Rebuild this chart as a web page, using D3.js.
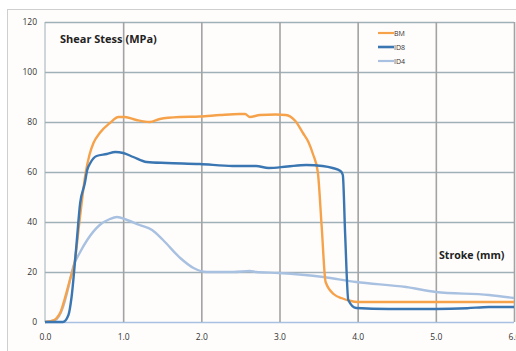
<!DOCTYPE html>
<html>
<head>
<meta charset="utf-8">
<script src="https://cdnjs.cloudflare.com/ajax/libs/d3/7.8.5/d3.min.js"></script>
<style>
  body { margin: 0; background: #fff; }
  svg { display: block; }
</style>
</head>
<body>
<script>
// values: [stroke (mm), shear stress (MPa)]
var bmData = [
  [0, 0], [0.1, 0.5], [0.15, 1.6], [0.2, 4], [0.25, 9], [0.32, 17], [0.38, 24], [0.44, 40],
  [0.52, 59.6], [0.57, 67], [0.62, 71.6], [0.7, 75.6], [0.83, 79.6], [0.94, 82], [1.02, 82],
  [1.17, 80.8], [1.34, 80], [1.47, 81.2], [1.73, 82], [1.98, 82.2], [2.24, 82.8], [2.49, 83.2],
  [2.56, 83.2], [2.62, 82], [2.75, 82.8], [2.95, 83], [3.08, 82.8], [3.2, 80.5], [3.3, 75.6],
  [3.37, 72], [3.43, 67], [3.49, 60], [3.54, 38], [3.59, 16], [3.7, 11], [3.8, 9.5],
  [3.9, 8.5], [4.0, 8], [5.0, 8], [6.0, 8]
];
var id8Data = [
  [0, 0], [0.23, 0], [0.3, 2.8], [0.34, 10], [0.4, 30], [0.45, 47.6], [0.51, 55.6], [0.54, 60.8],
  [0.58, 63.6], [0.66, 66.4], [0.79, 67.2], [0.9, 68], [1.0, 67.6], [1.13, 66], [1.3, 64],
  [1.56, 63.6], [1.98, 63.2], [2.4, 62.4], [2.7, 62.4], [2.86, 61.6], [3.1, 62.2], [3.34, 62.8],
  [3.55, 62.4], [3.68, 61.6], [3.78, 60.4], [3.81, 58.8], [3.84, 35], [3.88, 8.8], [3.98, 5.6],
  [4.4, 5.2], [5.0, 5.2], [5.4, 5.5], [5.68, 6], [6.0, 6]
];
var id4Data = [
  [0, 0], [0.13, 0.8], [0.23, 6], [0.3, 14], [0.36, 22], [0.45, 28], [0.54, 32.8], [0.7, 38.8],
  [0.83, 41.2], [0.92, 42], [1.05, 40.8], [1.21, 38.8], [1.37, 36.8], [1.51, 32.8], [1.73, 25.6],
  [1.9, 21.6], [2.07, 20], [2.41, 20], [2.62, 20.4], [2.7, 20], [2.99, 19.6], [3.56, 18],
  [3.98, 16], [4.62, 14], [5.0, 12], [5.68, 10.8], [6.0, 9.6]
];
var seriesNames = ["BM", "ID8", "ID4"];
var seriesColors = ["#f5a24b", "#3a76b2", "#a9c1e1"];
var xTicks = [0, 1, 2, 3, 4, 5, 6];
var yTicks = [0, 20, 40, 60, 80, 100, 120];

var svgWidth = 516;
var svgHeight = 351;
var margin = { top: 22, right: 2, bottom: 29, left: 45 };
var chartWidth = svgWidth - margin.left - margin.right;
var chartHeight = svgHeight - margin.top - margin.bottom;

var svg = d3.select("body")
  .append("svg")
    .attr("width", svgWidth)
    .attr("height", svgHeight);

// outer chart frame (runs off the right/bottom edge)
svg.append("rect")
  .attr("x", 7.5)
  .attr("y", 9.5)
  .attr("width", 520)
  .attr("height", 360)
  .style("fill", "#fffdfc")
  .style("stroke", "#cfcfcf");

var g = svg.append("g")
  .attr("transform", "translate(" + margin.left + ", " + margin.top + ")");

var xScale = d3.scaleLinear().domain([0, 6]).range([0, chartWidth]);
var yScale = d3.scaleLinear().domain([0, 120]).range([chartHeight, 0]);

// horizontal grid
g.append("g")
  .attr("class", "y-grid")
  .call(d3.axisLeft(yScale).tickValues(yTicks).tickSize(-chartWidth).tickFormat(""))
  .call(function (a) { a.select(".domain").remove(); })
  .selectAll("line")
    .style("stroke", function (d) { return d === 0 ? "#a9c1e1" : "#9fb0b8"; })
    .style("stroke-width", 1.6);

// vertical grid
g.append("g")
  .attr("class", "x-grid")
  .attr("transform", "translate(0, " + chartHeight + ")")
  .call(d3.axisBottom(xScale).tickValues(xTicks.slice(1)).tickSize(-chartHeight).tickFormat(""))
  .call(function (a) { a.select(".domain").remove(); })
  .selectAll("line")
    .style("stroke", "#a3a3a3")
    .style("stroke-width", 1.6);

// left edge of plot
g.append("line")
  .attr("x1", 0).attr("x2", 0)
  .attr("y1", 0).attr("y2", chartHeight)
  .style("stroke", "#9fb0b8")
  .style("stroke-width", 1);

// tick labels
var leftAxis = g.append("g")
  .call(d3.axisLeft(yScale).tickValues(yTicks).tickSize(0).tickPadding(8));
leftAxis.select(".domain").remove();
leftAxis.selectAll("text")
  .style("font-family", "Open Sans, sans-serif")
  .style("font-size", "8.5px")
  .style("fill", "#333");

var bottomAxis = g.append("g")
  .attr("transform", "translate(0, " + chartHeight + ")")
  .call(d3.axisBottom(xScale).tickValues(xTicks).tickSize(0).tickPadding(12).tickFormat(d3.format(".1f")));
bottomAxis.select(".domain").remove();
bottomAxis.selectAll("text")
  .style("font-family", "Open Sans, sans-serif")
  .style("font-size", "8.5px")
  .style("fill", "#333");

// series lines
var line = d3.line()
  .x(function (d) { return xScale(d[0]); })
  .y(function (d) { return yScale(d[1]); })
  .curve(d3.curveMonotoneX);

var allSeries = [bmData, id8Data, id4Data];
// draw ID4 first, then BM, then ID8 on top
[2, 0, 1].forEach(function (i) {
  g.append("path")
    .datum(allSeries[i])
    .attr("d", line)
    .style("fill", "none")
    .style("stroke", seriesColors[i])
    .style("stroke-width", 2.4)
    .style("stroke-linejoin", "round");
});

// legend
var legend = svg.append("g").attr("transform", "translate(378, 33)");
seriesNames.forEach(function (name, i) {
  legend.append("line")
    .attr("x1", 0).attr("x2", 16)
    .attr("y1", i * 14).attr("y2", i * 14)
    .style("stroke", seriesColors[i])
    .style("stroke-width", i === 1 ? 2.6 : 2.2);
  legend.append("text")
    .attr("x", 16)
    .attr("y", i * 14 + 2.5)
    .style("font-family", "Open Sans, sans-serif")
    .style("font-size", "7px")
    .style("fill", "#333")
    .text(name);
});

// axis titles
svg.append("text")
  .attr("x", 60)
  .attr("y", 43)
  .style("font-family", "Open Sans, sans-serif")
  .style("font-size", "11px")
  .style("font-weight", "bold")
  .style("fill", "#222")
  .text("Shear Stess (MPa)");

svg.append("text")
  .attr("x", 439)
  .attr("y", 259)
  .style("font-family", "Open Sans, sans-serif")
  .style("font-size", "10.6px")
  .style("font-weight", "bold")
  .style("fill", "#222")
  .text("Stroke (mm)");
</script>
</body>
</html>
